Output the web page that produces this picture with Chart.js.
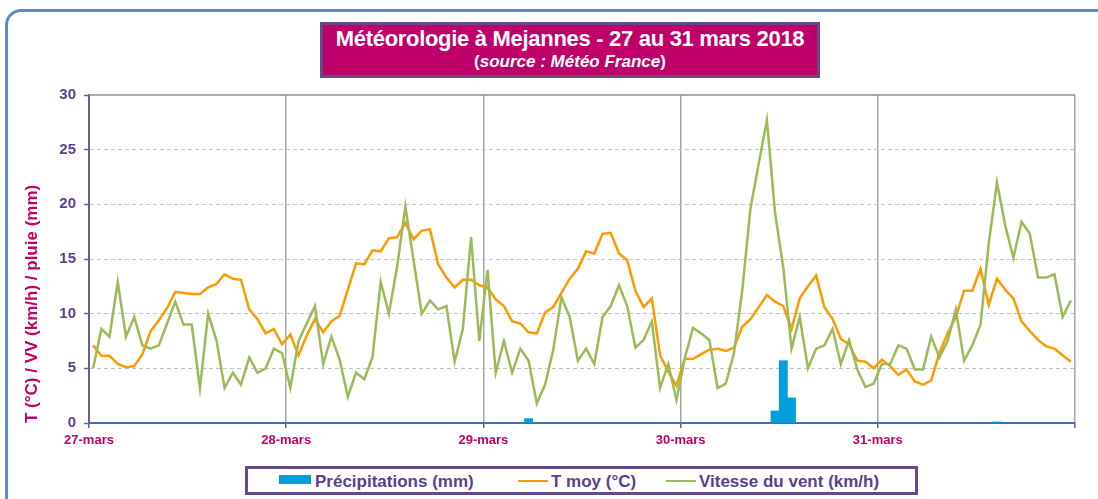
<!DOCTYPE html>
<html><head><meta charset="utf-8">
<script src="https://cdn.jsdelivr.net/npm/chart.js@4/dist/chart.umd.min.js"></script>
<style>
html,body{margin:0;padding:0;background:#fff;}
#wrap{position:relative;width:1098px;height:499px;overflow:hidden;font-family:"Liberation Sans",Arial,sans-serif;}
#frame{position:absolute;left:5px;top:9px;width:1200px;height:600px;border:3px solid #5b8cca;border-radius:16px;box-sizing:border-box;}
#c{position:absolute;left:0;top:0;}
#title{position:absolute;left:320px;top:22px;width:500px;height:56px;box-sizing:border-box;background:#c0006a;border:3px solid #644a86;color:#fff;text-align:center;font-weight:bold;}
#title .l1{font-size:22px;line-height:24px;margin-top:2px;letter-spacing:-0.3px;}
#title .l2{font-size:17px;line-height:21px;}
#legend{position:absolute;left:245px;top:466px;width:673px;height:29px;box-sizing:border-box;border:3px solid #644a86;background:#fff;font-weight:bold;font-size:17px;color:#5b3f8c;}
.item{position:absolute;top:3px;line-height:20px;white-space:nowrap;}
.sw{position:absolute;}
</style></head>
<body><div id="wrap">
<div id="frame"></div>
<canvas id="c" width="1098" height="499"></canvas>
<div id="title"><div class="l1">Météorologie à Mejannes - 27 au 31 mars 2018</div><div class="l2">(<i>source : Météo France</i>)</div></div>
<div id="legend">
  <div class="sw" style="left:31px;top:6px;width:32px;height:9px;background:#00a0dc"></div>
  <div class="item" style="left:67px">Précipitations (mm)</div>
  <div class="sw" style="left:270px;top:11px;width:30px;height:2px;background:#ff9900"></div>
  <div class="item" style="left:303px">T moy (°C)</div>
  <div class="sw" style="left:418px;top:11px;width:30px;height:2px;background:#9bbb59"></div>
  <div class="item" style="left:451px">Vitesse du vent (km/h)</div>
</div>
</div>
<script>
const days = ['27-mars','28-mars','29-mars','30-mars','31-mars'];
const yTicks = [0,5,10,15,20,25,30];
// hourly mean temperature (°C), 27 -> 31 mars
const tmoy = [
 7.1,6.15,6.15,5.4,5.1,5.2,6.3,8.4,9.4,10.5,12.0,11.9,11.8,11.8,12.4,12.7,13.6,13.2,13.1,10.4,9.5,8.2,8.6,7.2,
 8.1,6.2,8.0,9.5,8.3,9.3,9.8,12.2,14.6,14.5,15.8,15.7,16.9,17.0,18.3,16.8,17.6,17.7,14.5,13.3,12.4,13.1,13.1,12.6,
 12.4,11.3,10.7,9.3,9.1,8.3,8.2,10.1,10.6,11.9,13.2,14.1,15.7,15.5,17.3,17.4,15.5,14.9,12.1,10.6,11.4,6.2,4.7,3.4,
 5.9,5.85,6.3,6.7,6.8,6.6,6.9,8.8,9.5,10.6,11.7,11.1,10.7,8.6,11.4,12.5,13.5,10.6,9.5,7.7,7.2,5.7,5.6,5.0,
 5.8,5.2,4.4,4.9,3.8,3.5,3.9,6.4,8.2,9.7,12.1,12.1,14.1,10.8,13.2,12.2,11.4,9.3,8.4,7.6,7.0,6.8,6.2,5.6
];
// hourly wind speed (km/h)
const vent = [
 5.0,8.6,7.9,12.9,7.9,9.7,7.1,6.8,7.1,9.1,11.1,9.0,9.0,3.2,10.0,7.6,3.2,4.6,3.5,6.0,4.6,5.0,6.8,6.4,
 3.2,7.5,9.1,10.7,5.4,7.9,5.8,2.4,4.6,4.0,6.0,12.9,10.0,14.3,19.8,14.9,10.0,11.2,10.4,10.7,5.6,8.6,17.0,7.5,
 14.0,4.6,7.5,4.6,6.8,5.7,1.8,3.5,6.7,11.5,9.7,5.7,6.8,5.4,9.7,10.7,12.6,10.7,6.9,7.6,9.3,3.2,5.4,2.1,
 5.9,8.7,8.2,7.6,3.2,3.6,6.4,12.1,19.6,23.7,27.7,19.2,14.2,6.8,9.7,5.0,6.8,7.1,8.6,5.4,7.6,4.9,3.3,3.6,
 5.4,5.4,7.1,6.8,4.9,4.9,7.9,6.0,7.5,10.4,5.7,7.1,9.0,16.4,22.0,18.1,15.1,18.4,17.3,13.3,13.3,13.6,9.7,11.2
];
// hourly precipitation (mm)
const pluie = [
 0,0,0,0,0,0,0,0,0,0,0,0,0,0,0,0,0,0,0,0,0,0,0,0,
 0,0,0,0,0,0,0,0,0,0,0,0,0,0,0,0,0,0,0,0,0,0,0,0,
 0,0,0,0,0,0.4,0,0,0,0,0,0,0,0,0,0,0,0,0,0,0,0,0,0,
 0,0,0,0,0,0,0,0,0,0,0,1.1,5.7,2.3,0,0,0,0,0,0,0,0,0,0,
 0,0,0,0,0,0,0,0,0,0,0,0,0,0,0.1,0,0,0,0,0,0,0,0,0
];
const toXY = arr => arr.map((v,i)=>({x:i+0.5,y:v}));
const purple = '#5b3f8c';
const axisPurple = '#6d5a9c';
const magenta = '#c0006a';

const topLine = {
  id:'topLine',
  afterDatasetsDraw(chart){
    const {ctx, chartArea:a} = chart;
    ctx.save();
    ctx.strokeStyle = '#8c8aa0';
    ctx.lineWidth = 1.5;
    ctx.beginPath();
    ctx.moveTo(a.left, a.top); ctx.lineTo(a.right, a.top);
    ctx.stroke();
    ctx.restore();
  }
};

new Chart(document.getElementById('c'), {
  data:{
    datasets:[
      {type:'bar', label:'Précipitations (mm)', data:toXY(pluie), backgroundColor:'#00a0dc', borderWidth:0, barPercentage:1, categoryPercentage:1, order:3},
      {type:'line', label:'T moy (°C)', data:toXY(tmoy), borderColor:'#ff9900', borderWidth:2.5, pointRadius:0, tension:0, fill:false, order:2},
      {type:'line', label:'Vitesse du vent (km/h)', data:toXY(vent), borderColor:'#9bbb59', borderWidth:2.5, pointRadius:0, tension:0, fill:false, order:1}
    ]
  },
  options:{
    responsive:false, animation:false, devicePixelRatio:1,
    layout:{padding:{top:95,right:23,left:0,bottom:0}},
    plugins:{legend:{display:false}, tooltip:{enabled:false}, title:{display:false}},
    scales:{
      x:{
        type:'linear', min:0, max:120, offset:false,
        afterFit(s){ s.height = 76; },
        afterBuildTicks(s){ s.ticks = [0,24,48,72,96,120].map(v=>({value:v})); },
        ticks:{autoSkip:false, maxRotation:0, padding:5, color:magenta,
          font:{family:'"Liberation Sans", Arial, sans-serif', size:13, weight:'bold'},
          callback:(v)=> days[v/24] || ''},
        grid:{offset:false, color:'#a6a6a6', lineWidth:1.5, drawTicks:true, tickLength:5, tickColor:axisPurple, tickWidth:1.5},
        border:{color:axisPurple, width:2}
      },
      y:{
        type:'linear', min:0, max:30,
        afterFit(s){ s.width = 89; },
        afterBuildTicks(s){ s.ticks = yTicks.map(v=>({value:v})); },
        ticks:{padding:8, color:purple,
          font:{family:'"Liberation Sans", Arial, sans-serif', size:15, weight:'bold'}},
        grid:{color:(c)=> (c.tick && (c.tick.value===0 || c.tick.value===30)) ? 'rgba(0,0,0,0)' : '#c4c4c4',
              lineWidth:1, drawTicks:true, tickLength:5, tickColor:axisPurple, tickWidth:1.5, tickBorderDash:[]},
        border:{color:axisPurple, width:2, dash:[4,3]},
        title:{display:true, text:'T (°C) / VV (km/h) / pluie (mm)', align:'start', color:magenta,
          padding:{top:22,bottom:0},
          font:{family:'"Liberation Sans", Arial, sans-serif', size:17, weight:'bold'}}
      }
    }
  },
  plugins:[topLine]
});
</script>
</body></html>
